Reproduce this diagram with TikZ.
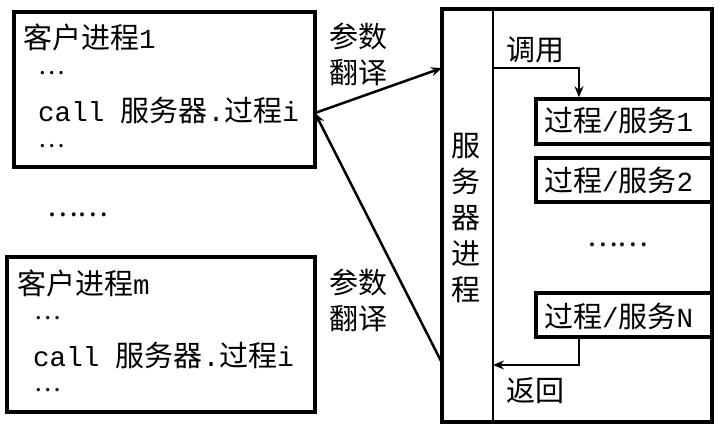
\documentclass[tikz,border=0pt]{standalone}
\usepackage{fontspec}
\setmainfont{Noto Sans CJK SC}
\newfontfamily\mono[Scale=0.95]{Liberation Mono}
\usetikzlibrary{positioning,arrows.meta}

\tikzset{
  box/.style={draw, line width=3.5pt, inner sep=0pt},
  txt/.style={anchor=west, inner sep=0pt, font=\fontsize{29}{36}\selectfont},
  dotline/.style={txt, font=\fontsize{25}{25}\selectfont, text height=6pt, text depth=0pt},
  arr/.style={-{Stealth[length=11pt,width=9pt]}, line width=2.5pt},
}

\begin{document}
\begin{tikzpicture}[x=1pt, y=1pt]
    \useasboundingbox (0,0) rectangle (720,430);
    % clients
    \node[box, minimum width=301pt, minimum height=155pt] (c1) at (164.5,340.5) {};
    \node[txt] (c1t) at (23,393) {客户进程{\mono 1}};
    \node[dotline] (c1a) at (38,358) {…};
    \node[txt] (c1b) at (38,320) {{\mono call }服务器{\mono .}过程{\mono i}};
    \node[dotline] (c1c) at (38,285) {…};
    \node[txt, text height=6pt, text depth=0pt] (dots) at (47,216) {……};
    \node[box, minimum width=308pt, minimum height=155pt] (cm) at (161,95.5) {};
    \node[txt] (cmt) at (17,146.5) {客户进程{\mono m}};
    \node[dotline] (cma) at (34,113) {…};
    \node[txt] (cmb) at (33,75) {{\mono call }服务器{\mono .}过程{\mono i}};
    \node[dotline] (cmc) at (34,41) {…};
    % server
    \draw[line width=3.5pt] (442,8) rectangle (712,421);
    \draw[line width=2.5pt] (493,8) -- (493,421);
    \node[txt, anchor=center, align=center] (srv) at (466,212)
      {服\\务\\器\\进\\程};
    \node[box, minimum width=176pt, minimum height=45pt] (p1) at (624,308.5) {};
    \node[txt] at (544,310) {过程{\mono /}服务{\mono 1}};
    \node[box, minimum width=176pt, minimum height=44pt] (p2) at (624,250) {};
    \node[txt] at (544,250) {过程{\mono /}服务{\mono 2}};
    \node[txt, text height=6pt, text depth=0pt] (sdots) at (587,186) {……};
    \node[box, minimum width=176pt, minimum height=44pt] (pn) at (624,115) {};
    \node[txt] at (544,114) {过程{\mono /}服务{\mono N}};
    % call / return
    \coordinate (cs) at (493,362);
    \coordinate (rs) at (493,65);
    \draw[arr] (cs) -| (p1.north -| 579,0);
    \draw[arr] (pn.south -| 579,0) |- (rs);
    \node[txt] at (506,380) {调用};
    \node[txt] at (506,39) {返回};
    % arrows between clients and server
    \coordinate (t) at (315,317);
    \coordinate (s1) at (442,362);
    \coordinate (s2) at (442,67);
    \draw[arr] (t) -- (s1);
    \draw[arr] (s2) -- (t);
    \node[txt, anchor=center, align=center] at (358,375.5) {参数\\翻译};
    \node[txt, anchor=center, align=center] at (358,130) {参数\\翻译};
\end{tikzpicture}
\end{document}
